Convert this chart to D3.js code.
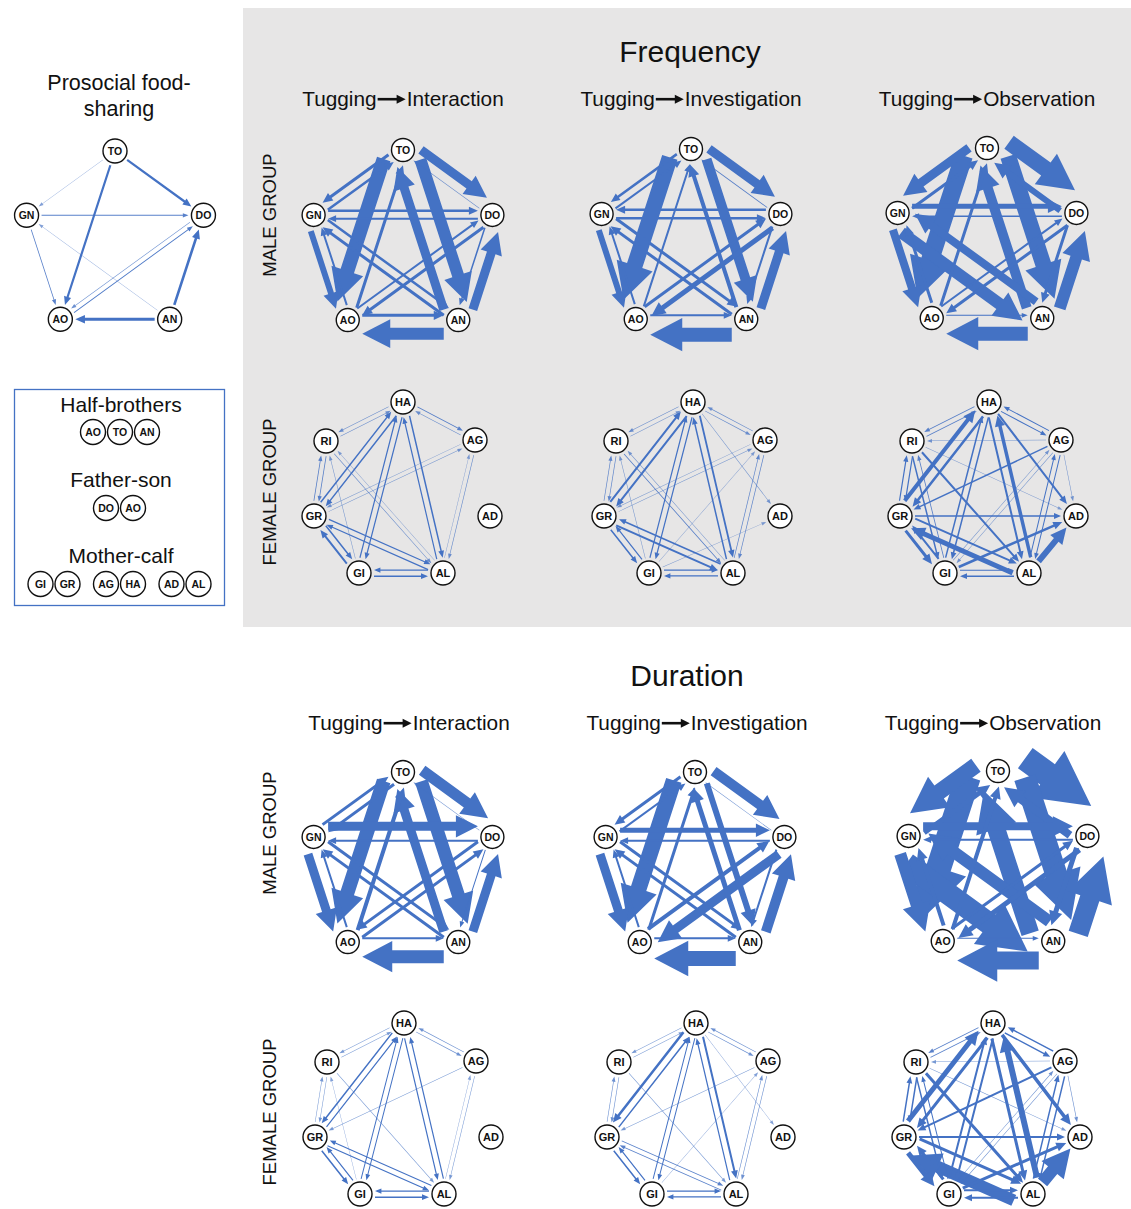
<!DOCTYPE html>
<html>
<head>
<meta charset="utf-8">
<script src="https://cdn.jsdelivr.net/npm/d3@7"></script>
<style>
  body { margin: 0; background: #fff; }
  svg { display: block; }
  text { font-family: "Liberation Sans", Arial, Helvetica, sans-serif; fill: #111; }
</style>
</head>
<body>
<svg id="chart" width="1131" height="1209"></svg>
<script>
// ---- Data --------------------------------------------------------------
const maleIds = ["TO", "DO", "AN", "AO", "GN"];               // clockwise from top
const femaleIds = ["HA", "AG", "AD", "AL", "GI", "GR", "RI"]; // clockwise from top

const measureTitles = ["Frequency", "Duration"];
const fromBehaviour = "Tugging";
const toBehaviours = ["Interaction", "Investigation", "Observation"];
const groupLabels = ["MALE GROUP", "FEMALE GROUP"];

const foodSharingTitle = ["Prosocial food-", "sharing"];
const kinLabels = ["Half-brothers", "Father-son", "Mother-calf"];
const kinMembers = [
  [["AO", "TO", "AN"]],
  [["DO", "AO"]],
  [["GI", "GR"], ["AG", "HA"], ["AD", "AL"]]
];

// directed edges: [source, target, weight]
const foodSharing = [
  ["TO","DO",2.2],["TO","AO",2.2],["AN","AO",2.8],["AN","DO",2.6],["TO","GN",0.4],
  ["GN","DO",0.8],["GN","AO",0.8],["AN","GN",0.4],["DO","AO",0.6],["AO","DO",0.9]
];

const freqMaleInteraction = [
  ["TO","DO",9],["DO","TO",0.6],["TO","GN",3],["GN","TO",2.5],["GN","DO",2.5],["DO","GN",2],
  ["GN","AO",6],["AO","GN",2],["TO","AO",14],["AO","TO",3],["TO","AN",12],["AN","TO",9],
  ["GN","AN",2.5],["AN","GN",3],["DO","AO",3],["AO","DO",2],["AN","AO",12],["AO","AN",3],
  ["AN","DO",9],["DO","AN",1.5]
];
const freqMaleInvestigation = [
  ["TO","DO",9],["DO","TO",0.8],["TO","GN",2.5],["GN","TO",2],["GN","DO",2.5],["DO","GN",2.5],
  ["GN","AO",6],["AO","GN",2],["TO","AO",16],["AO","TO",2],["TO","AN",10],["AN","TO",4],
  ["GN","AN",3],["AN","GN",3],["DO","AO",5],["AO","DO",3],["AN","AO",14],["AO","AN",2],
  ["AN","DO",9],["DO","AN",2]
];
const freqMaleObservation = [
  ["TO","DO",16],["DO","TO",6],["TO","GN",9],["GN","TO",3],["GN","DO",5],["DO","GN",1.5],
  ["GN","AO",8],["AO","GN",3],["TO","AO",18],["AO","TO",3],["TO","AN",16],["AN","TO",10],
  ["GN","AN",12],["AN","GN",8],["DO","AO",3],["AO","DO",2],["AN","AO",14],["AO","AN",1],
  ["AN","DO",12],["DO","AN",3]
];
const durMaleInteraction = [
  ["TO","DO",11],["DO","TO",0.5],["TO","GN",3],["GN","TO",3],["GN","DO",9],["DO","GN",2],
  ["GN","AO",9],["AO","GN",2],["TO","AO",14],["AO","TO",4],["TO","AN",13],["AN","TO",9],
  ["GN","AN",3],["AN","GN",3],["DO","AO",3],["AO","DO",3],["AN","AO",13],["AO","AN",2],
  ["AN","DO",9],["DO","AN",1]
];
const durMaleInvestigation = [
  ["TO","DO",10],["DO","TO",0.6],["TO","GN",3],["GN","TO",2],["GN","DO",5],["DO","GN",2],
  ["GN","AO",9],["AO","GN",2],["TO","AO",16],["AO","TO",3],["TO","AN",6],["AN","TO",5],
  ["GN","AN",3],["AN","GN",3],["DO","AO",9],["AO","DO",4],["AN","AO",15],["AO","AN",2],
  ["AN","DO",10],["DO","AN",2]
];
const durMaleObservation = [
  ["TO","DO",25],["DO","TO",8],["TO","GN",16],["GN","TO",5],["GN","DO",8],["DO","GN",2],
  ["GN","AO",12],["AO","GN",4],["TO","AO",25],["AO","TO",4],["TO","AN",22],["AN","TO",18],
  ["GN","AN",22],["AN","GN",12],["DO","AO",5],["AO","DO",3],["AN","AO",18],["AO","AN",1],
  ["AN","DO",20],["DO","AN",5]
];

const freqFemaleInteraction = [
  ["HA","RI",0.6],["RI","HA",0.6],["HA","AG",0.8],["AG","HA",0.6],["HA","GR",1.5],["GR","HA",1.5],
  ["HA","GI",1.2],["GI","HA",1.2],["HA","AL",1.5],["AL","HA",1.2],["RI","GR",0.8],["GR","RI",0.8],
  ["GI","RI",0.5],["RI","AL",0.6],["AL","RI",0.4],["AG","GR",0.5],["GR","AG",0.5],["AG","AL",0.6],
  ["AL","AG",0.4],["GR","GI",1.5],["GI","GR",2],["GR","AL",1.2],["AL","GR",1.2],["GI","AL",1.5],
  ["AL","GI",1.2]
];
const freqFemaleInvestigation = [
  ["HA","RI",0.6],["RI","HA",0.5],["HA","AG",0.6],["AG","HA",0.6],["HA","AD",0.5],["HA","GR",2],
  ["GR","HA",2],["HA","GI",1.2],["GI","HA",1.2],["HA","AL",1.8],["AL","HA",1.5],["RI","GR",0.7],
  ["GR","RI",0.7],["GI","RI",0.5],["RI","AL",0.8],["AL","RI",0.5],["AG","GR",0.5],["GR","AG",0.5],
  ["AG","AL",0.7],["AL","AG",0.7],["GI","AG",0.4],["GI","AD",0.4],["GR","GI",1.5],["GI","GR",1.2],
  ["GR","AL",2],["AL","GR",1.5],["GI","AL",1.2],["AL","GI",1.2]
];
const freqFemaleObservation = [
  ["HA","RI",0.8],["RI","HA",0.8],["HA","AG",1],["AG","HA",1],["HA","AD",2],["GR","HA",4],
  ["HA","GR",2.5],["HA","GI",1.5],["GI","HA",1.5],["AL","HA",3.5],["HA","AL",2],["AG","RI",0.5],
  ["RI","GR",1.2],["GR","RI",1.2],["RI","GI",1.5],["GI","RI",0.8],["RI","AL",2],["RI","AD",0.4],
  ["AG","GR",1.5],["AG","GI",0.5],["GI","AG",0.5],["AG","AL",1],["AL","AG",1],["AG","AD",0.5],
  ["GR","AD",1.5],["GR","GI",3],["GI","GR",2],["AL","GR",5],["GR","AL",2],["GI","AL",1],
  ["AL","GI",1.5],["GI","AD",2.5],["AL","AD",6]
];
const durFemaleInteraction = [
  ["HA","RI",0.5],["RI","HA",0.5],["HA","AG",0.6],["AG","HA",0.6],["HA","GR",1.5],["GR","HA",1.2],
  ["HA","GI",1],["GI","HA",1],["HA","AL",1.2],["AL","HA",1.2],["RI","GR",0.5],["GR","RI",0.5],
  ["GI","RI",0.4],["RI","AL",0.5],["AG","GR",0.5],["AG","AL",0.5],["AL","AG",0.4],["GR","GI",1.5],
  ["GI","GR",1.2],["GR","AL",1.2],["AL","GR",1],["GI","AL",1.5],["AL","GI",1.2]
];
const durFemaleInvestigation = [
  ["HA","RI",0.5],["RI","HA",0.5],["HA","AG",0.6],["AG","HA",0.6],["HA","AD",0.4],["HA","GR",2.5],
  ["GR","HA",1.5],["HA","GI",1],["GI","HA",1],["HA","AL",2],["AL","HA",1.2],["RI","GR",0.6],
  ["GR","RI",0.6],["RI","AL",0.5],["AG","GR",0.5],["AG","AL",0.6],["AL","AG",0.6],["GI","AG",0.4],
  ["GR","GI",1.5],["GI","GR",1.2],["GR","AL",0.8],["AL","GR",0.8],["GI","AL",1.2],["AL","GI",1.2]
];
const durFemaleObservation = [
  ["HA","RI",0.8],["RI","HA",0.8],["HA","AG",1.5],["AG","HA",1.5],["HA","AD",3.5],["GR","HA",5],
  ["HA","GR",3],["HA","GI",2],["GI","HA",2],["AL","HA",6],["HA","AL",3],["AG","RI",0.5],
  ["RI","GR",1.5],["GR","RI",1.5],["RI","GI",1.5],["GI","RI",1],["RI","AL",3],["RI","AD",0.5],
  ["AG","GR",2],["AG","GI",0.6],["GI","AG",0.6],["AG","AL",1.5],["AL","AG",1.5],["AG","AD",0.6],
  ["GR","AD",2],["GR","GI",5],["GI","GR",3],["AL","GR",12],["GR","AL",3],["GI","AL",2],
  ["AL","GI",2],["GI","AD",3],["AL","AD",12]
];

// ---- Drawing -----------------------------------------------------------
const BLUE = "#4472c4";
const svg = d3.select("#chart");

// edge weight -> shaft width (px)
const widthScale = d3.scaleLinear().domain([0, 25]).range([0, 25]);
const polygon = d3.line().curve(d3.curveLinearClosed);

function pentagonLayout(cx, cy, R) {
  const pos = {};
  maleIds.forEach((id, i) => {
    const a = i * 2 * Math.PI / maleIds.length;
    pos[id] = [cx + R * Math.sin(a), cy - R * Math.cos(a)];
  });
  return pos;
}

// heptagon drawn slightly irregular, anchored on the top node
const heptOffsets = { HA: [0, 0], AG: [72, 38], AD: [87, 114], AL: [40, 171],
                      GI: [-44, 171], GR: [-89, 114], RI: [-77, 39] };
function heptagonLayout(hx, hy) {
  const pos = {};
  femaleIds.forEach(id => { pos[id] = [hx + heptOffsets[id][0], hy + heptOffsets[id][1]]; });
  return pos;
}

// Arrow polygon from a to b. A reciprocated pair is split to either side of
// the centre line: the heavier direction on the outer side of the network,
// the lighter one on the inner side. Single edges run along the centre line.
function arrowShape(a, b, value, r, side) {
  const w = widthScale(value);
  const dx = b[0] - a[0], dy = b[1] - a[1], L = Math.hypot(dx, dy);
  const ux = dx / L, uy = dy / L;
  const nx = uy, ny = -ux;
  const hw = 2.2 * w + 2.5;
  const off = side === 0 ? 0 : side * (0.45 * hw + 0.6);
  const gap = r + 3;
  const s = [a[0] + ux * gap + nx * off, a[1] + uy * gap + ny * off];
  const e = [b[0] - ux * gap + nx * off, b[1] - uy * gap + ny * off];
  const avail = L - 2 * gap;
  const hl = Math.min(2 * w + 4, avail * 0.7);
  const base = [e[0] - ux * hl, e[1] - uy * hl];
  const h = w / 2, H = hw / 2;
  return [
    [s[0] + nx * h, s[1] + ny * h],
    [base[0] + nx * h, base[1] + ny * h],
    [base[0] + nx * H, base[1] + ny * H],
    e,
    [base[0] - nx * H, base[1] - ny * H],
    [base[0] - nx * h, base[1] - ny * h],
    [s[0] - nx * h, s[1] - ny * h]
  ];
}

function drawNodes(g, entries, r, fs) {
  const n = g.selectAll("g.node").data(entries).join("g").attr("class", "node")
    .attr("transform", d => `translate(${d.x},${d.y})`);
  n.append("circle").attr("r", r).attr("fill", "#fff").attr("stroke", "#111").attr("stroke-width", 1.4);
  n.append("text").attr("text-anchor", "middle").attr("dy", "0.36em")
    .attr("font-size", fs).attr("font-weight", "bold").text(d => d.id);
}

function drawNetwork(pos, edges, r, fs) {
  const g = svg.append("g");
  const ids = Object.keys(pos);
  const cx = d3.mean(ids, id => pos[id][0]), cy = d3.mean(ids, id => pos[id][1]);
  const weight = new Map(edges.map(d => [d[0] + ">" + d[1], d[2]]));
  const shaped = edges.map(d => {
    const a = pos[d[0]], b = pos[d[1]];
    const rev = weight.get(d[1] + ">" + d[0]);
    let side = 0;
    if (rev !== undefined) {
      const L = Math.hypot(b[0] - a[0], b[1] - a[1]);
      const nx = (b[1] - a[1]) / L, ny = -(b[0] - a[0]) / L;
      const mx = (a[0] + b[0]) / 2 - cx, my = (a[1] + b[1]) / 2 - cy;
      const leftIsOuter = nx * mx + ny * my >= 0 ? 1 : -1;
      const heavier = d[2] > rev || (d[2] === rev && d[0] < d[1]);
      side = heavier ? leftIsOuter : -leftIsOuter;
    }
    return { d, pts: arrowShape(a, b, d[2], r, side) };
  }).sort((p, q) => q.d[2] - p.d[2]);
  g.selectAll("path.edge").data(shaped).join("path").attr("class", "edge")
    .attr("d", e => polygon(e.pts))
    .attr("fill", BLUE)
    .attr("fill-opacity", e => e.d[2] < 1 ? 0.45 + 0.55 * e.d[2] : 1);
  drawNodes(g, ids.map(id => ({ id, x: pos[id][0], y: pos[id][1] })), r, fs);
}

function header(cx, baseline, label) {
  const g = svg.append("g");
  const t1 = g.append("text").attr("font-size", 20.8).attr("y", baseline).text(fromBehaviour);
  const t2 = g.append("text").attr("font-size", 20.8).attr("y", baseline).text(label);
  const w1 = t1.node().getComputedTextLength(), w2 = t2.node().getComputedTextLength();
  const aw = 28, pad = 1;
  const total = w1 + pad + aw + pad + w2;
  const x0 = cx - total / 2;
  t1.attr("x", x0);
  const ax = x0 + w1 + pad, ay = baseline - 6.8;
  g.append("line").attr("x1", ax).attr("x2", ax + aw - 7).attr("y1", ay).attr("y2", ay)
    .attr("stroke", "#111").attr("stroke-width", 2.6);
  g.append("path").attr("d", polygon([[ax + aw - 9, ay - 4.5], [ax + aw, ay], [ax + aw - 9, ay + 4.5]]))
    .attr("fill", "#111");
  t2.attr("x", ax + aw + pad);
}

// background panel for the frequency block
svg.append("rect").attr("x", 243).attr("y", 8).attr("width", 888).attr("height", 619).attr("fill", "#e7e6e6");

// left column: food-sharing network
foodSharingTitle.forEach((t, i) => {
  svg.append("text").attr("x", 119).attr("y", 90 + i * 26).attr("text-anchor", "middle")
    .attr("font-size", 21.5).text(t);
});
drawNetwork(pentagonLayout(115, 244, 93), foodSharing, 12, 10.5);

// kinship legend
svg.append("rect").attr("x", 14.5).attr("y", 389.5).attr("width", 210).attr("height", 216)
  .attr("fill", "none").attr("stroke", BLUE).attr("stroke-width", 1.3);
const kinY = [412, 487, 563];
const kinCircleY = [432, 508, 584];
const kinClusterX = [[120], [119.5], [54, 119.5, 185]];
kinLabels.forEach((lab, i) => {
  svg.append("text").attr("x", 121).attr("y", kinY[i]).attr("text-anchor", "middle")
    .attr("font-size", 21).text(lab);
  kinMembers[i].forEach((cluster, j) => {
    const step = 27;
    const startX = kinClusterX[i][j] - step * (cluster.length - 1) / 2;
    const entries = cluster.map((id, k) => ({ id, x: startX + k * step, y: kinCircleY[i] }));
    drawNodes(svg.append("g"), entries, 12.5, 10.5);
  });
});

// main grid
const titleY = [62, 686];
const titleX = [690, 687];
const headerY = [106, 730];
const headerX = [[403, 691, 987], [409, 697, 993]];
const groupLabelY = [[215, 492], [833, 1112]];
const maleCenters = [[[403, 244], [691, 243], [987, 242]], [[403, 866], [695, 866], [998, 865]]];
const femaleTops = [[[403, 402], [693, 402], [989, 402]], [[404, 1023], [696, 1023], [993, 1023]]];
const maleData = [[freqMaleInteraction, freqMaleInvestigation, freqMaleObservation],
                  [durMaleInteraction, durMaleInvestigation, durMaleObservation]];
const femaleData = [[freqFemaleInteraction, freqFemaleInvestigation, freqFemaleObservation],
                    [durFemaleInteraction, durFemaleInvestigation, durFemaleObservation]];

measureTitles.forEach((m, mi) => {
  svg.append("text").attr("x", titleX[mi]).attr("y", titleY[mi]).attr("text-anchor", "middle")
    .attr("font-size", 30).text(m);
  toBehaviours.forEach((b, bi) => header(headerX[mi][bi], headerY[mi], b));
  groupLabels.forEach((gl, gi) => {
    svg.append("text").attr("transform", `translate(270,${groupLabelY[mi][gi]}) rotate(-90)`)
      .attr("text-anchor", "middle").attr("dy", "0.35em").attr("font-size", 18.5).text(gl);
  });
  toBehaviours.forEach((b, bi) => {
    const c = maleCenters[mi][bi];
    drawNetwork(pentagonLayout(c[0], c[1], 94), maleData[mi][bi], 11.5, 10.5);
    const t = femaleTops[mi][bi];
    drawNetwork(heptagonLayout(t[0], t[1]), femaleData[mi][bi], 12, 11);
  });
});
</script>
</body>
</html>
